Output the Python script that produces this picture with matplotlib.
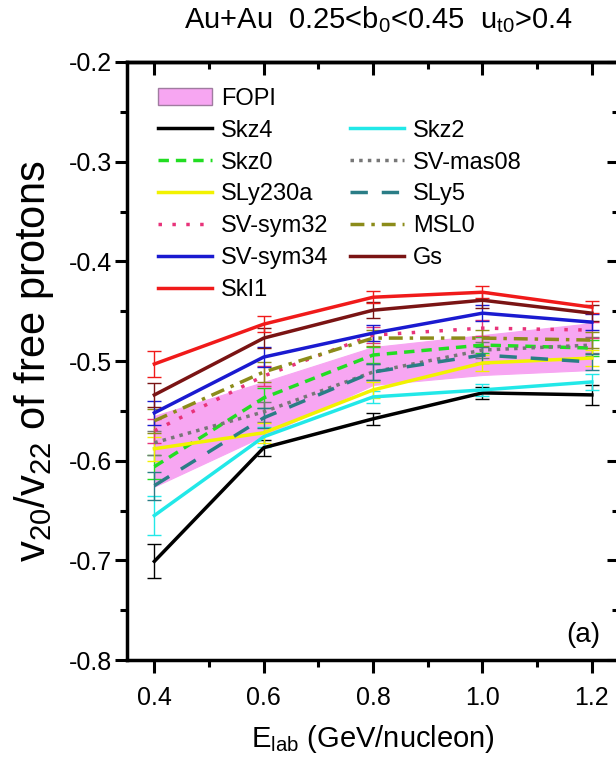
import matplotlib
matplotlib.use('Agg')
import matplotlib.pyplot as plt
from matplotlib.patches import Patch
from matplotlib.lines import Line2D
from matplotlib.ticker import MultipleLocator, NullFormatter

plt.rcParams['font.family'] = ['Liberation Sans', 'DejaVu Sans']
plt.rcParams['mathtext.fontset'] = 'custom'
plt.rcParams['mathtext.rm'] = 'Liberation Sans'
plt.rcParams['mathtext.it'] = 'Liberation Sans'
plt.rcParams['axes.unicode_minus'] = False

# beam energies (GeV/nucleon)
e_lab = [0.4, 0.6, 0.8, 1.0, 1.2]

# FOPI band (lower / upper edge)
fopi_lo = [-0.626, -0.575, -0.524, -0.514, -0.509]
fopi_hi = [-0.555, -0.521, -0.486, -0.474, -0.462]

# v20/v22 for each Skyrme parametrization
skz4 = [-0.701, -0.587, -0.558, -0.532, -0.534]
skz2 = [-0.655, -0.576, -0.536, -0.529, -0.521]
skz0 = [-0.606, -0.537, -0.494, -0.484, -0.487]
sv_mas08 = [-0.582, -0.551, -0.511, -0.489, -0.484]
sly230a = [-0.588, -0.572, -0.529, -0.502, -0.497]
sly5 = [-0.625, -0.557, -0.511, -0.494, -0.501]
sv_sym32 = [-0.570, -0.515, -0.474, -0.467, -0.469]
msl0 = [-0.560, -0.511, -0.477, -0.477, -0.479]
sv_sym34 = [-0.552, -0.496, -0.472, -0.452, -0.461]
gs = [-0.534, -0.477, -0.449, -0.439, -0.452]
ski1 = [-0.503, -0.463, -0.436, -0.431, -0.446]

# statistical errors
err_skz4 = [0.017, 0.008, 0.006, 0.006, 0.010]
err_skz2 = [0.020, 0.010, 0.006, 0.006, 0.008]
err_skz0 = [0.012, 0.010, 0.008, 0.008, 0.008]
err_sv_mas08 = [0.012, 0.010, 0.008, 0.008, 0.008]
err_sly230a = [0.012, 0.010, 0.008, 0.008, 0.008]
err_sly5 = [0.014, 0.010, 0.008, 0.008, 0.008]
err_sv_sym32 = [0.012, 0.010, 0.008, 0.008, 0.008]
err_msl0 = [0.012, 0.010, 0.008, 0.008, 0.008]
err_sv_sym34 = [0.012, 0.010, 0.008, 0.008, 0.008]
err_gs = [0.012, 0.010, 0.008, 0.008, 0.008]
err_ski1 = [0.013, 0.008, 0.006, 0.006, 0.006]

models = [
    ('Skz4', skz4, err_skz4, '#000000', '-'),
    ('Skz2', skz2, err_skz2, '#22e8e8', '-'),
    ('Skz0', skz0, err_skz0, '#22dd22', (0, (3, 2))),
    ('SV-mas08', sv_mas08, err_sv_mas08, '#777777', (0, (1, 1.5))),
    ('SLy230a', sly230a, err_sly230a, '#f2f200', '-'),
    ('SLy5', sly5, err_sly5, '#2a7d86', (0, (5, 4))),
    ('SV-sym32', sv_sym32, err_sv_sym32, '#e8337a', (0, (1, 3))),
    ('MSL0', msl0, err_msl0, '#8c8c1a', (0, (4, 2, 1, 2))),
    ('SV-sym34', sv_sym34, err_sv_sym34, '#1a1ad0', '-'),
    ('Gs', gs, err_gs, '#7a1414', '-'),
    ('SkI1', ski1, err_ski1, '#f01a1a', '-'),
]

fig = plt.figure(figsize=(6.16, 7.57), dpi=100)
ax = fig.add_axes([0.2062, 0.1281, 0.799, 0.790])

ax.fill_between(e_lab, fopi_lo, fopi_hi, facecolor='#f7a6f2', edgecolor='#f7a6f2',
                linewidth=0.8, zorder=1)

handles = {}
for name, vals, errs, col, ls in models:
    ax.errorbar(e_lab, vals, yerr=errs, color=col, ecolor=col, elinewidth=1.0,
                capsize=5, capthick=1.0, linewidth=2.5, linestyle=ls, zorder=3)
    handles[name] = Line2D([], [], color=col, linestyle=ls, linewidth=2.5)

blank = Line2D([], [], color='none')
fopi_patch = Patch(facecolor='#f7a6f2', edgecolor='#a07ca0', linewidth=1.0)
order_left = ['Skz4', 'Skz0', 'SLy230a', 'SV-sym32', 'SV-sym34', 'SkI1']
order_right = ['Skz2', 'SV-mas08', 'SLy5', 'MSL0', 'Gs']
leg_handles = [fopi_patch] + [handles[n] for n in order_left] + [blank] + \
    [handles[n] for n in order_right] + [blank]
leg_labels = ['FOPI'] + order_left + [''] + order_right + ['']
ax.legend(leg_handles, leg_labels, ncol=2, loc='upper left', frameon=False,
          fontsize=17, handlelength=2.3, handletextpad=0.38, columnspacing=0.9,
          labelspacing=0.42, borderpad=0.0, borderaxespad=0.0,
          bbox_to_anchor=(0.063, 0.957))

ax.set_xlim(0.35, 1.25)
ax.set_ylim(-0.8, -0.2)
ax.set_xticks(e_lab)
ax.set_xticklabels(['0.4', '0.6', '0.8', '1.0', '1.2'])
ax.xaxis.set_minor_locator(MultipleLocator(0.1))
ax.yaxis.set_major_locator(MultipleLocator(0.1))
ax.yaxis.set_minor_locator(MultipleLocator(0.05))
ax.tick_params(which='both', direction='out', top=False, right=False, width=2.2)
ax.tick_params(which='major', length=9)
ax.tick_params(which='minor', length=5)
ax.tick_params(axis='x', labelsize=18, pad=10)
ax.tick_params(axis='y', labelsize=18, pad=2)
for sp in ax.spines.values():
    sp.set_linewidth(2.5)

# mirrored axes on top and right with inward ticks
top = ax.secondary_xaxis('top')
top.set_xticks(e_lab)
top.xaxis.set_minor_locator(MultipleLocator(0.1))
top.xaxis.set_major_formatter(NullFormatter())
right = ax.secondary_yaxis('right')
right.yaxis.set_major_locator(MultipleLocator(0.1))
right.yaxis.set_minor_locator(MultipleLocator(0.05))
right.yaxis.set_major_formatter(NullFormatter())
for sec in (top, right):
    sec.tick_params(which='both', direction='in', width=2.2)
    sec.tick_params(which='major', length=9)
    sec.tick_params(which='minor', length=5)
    for sp in sec.spines.values():
        sp.set_linewidth(2.5)

ax.set_xlabel('E$_{\\mathrm{lab}}$ (GeV/nucleon)', fontsize=21)
ax.xaxis.set_label_coords(0.5, -0.105)
ax.set_ylabel('v$_{20}$/v$_{22}$ of free protons', fontsize=30)
ax.yaxis.set_label_coords(-0.145, 0.5)
ax.text(0.51, 1.057, 'Au+Au  0.25<b$_0$<0.45  u$_{t0}$>0.4', fontsize=21,
        ha='center', va='baseline', transform=ax.transAxes)
ax.text(1.184, -0.775, '(a)', fontsize=20, ha='center', va='center')

plt.savefig('out.png', dpi=100)
